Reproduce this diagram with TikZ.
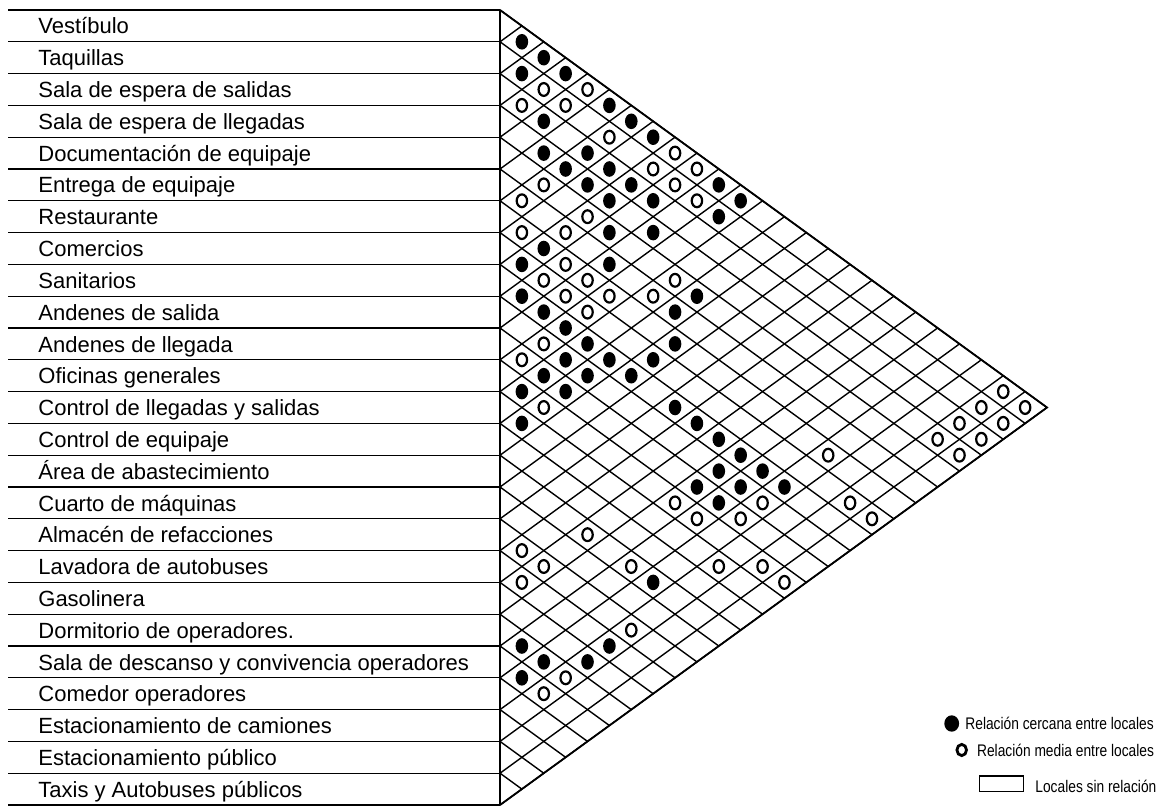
\documentclass[tikz,border=0pt]{standalone}
\usepackage{fontspec}
\setmainfont{Liberation Sans}
\newfontfamily\narrowfont[FakeStretch=0.82]{Liberation Sans}
\begin{document}
\begin{tikzpicture}[x=0.5pt,y=-0.5pt,
  gridline/.style={line width=0.7pt},
  frameline/.style={line width=0.9pt},
  rowline/.style={line width=0.6pt},
  lbl/.style={anchor=base west, inner sep=0pt, font=\fontsize{11}{13}\selectfont},
  legtext/.style={anchor=west, inner sep=0pt, font=\narrowfont\fontsize{8.4}{10}\selectfont},
  neardot/.style={fill=black},
  middot/.style={draw=black, line width=1.1pt}]
\useasboundingbox (0,0) rectangle (1160,807);
\def\A{21.88}
\def\H{31.8}
% row lines of the list
\foreach \k in {0,...,25} {
  \coordinate (L\k) at (8,{10+\k*\H});
  \coordinate (b\k) at (500,{10+\k*\H});
  \draw[rowline] (L\k) -- (b\k);
}
% triangle grid
\foreach \k in {0,...,25} {
  \coordinate (dn\k) at ({500+(25-\k)*\A},{10+(\k+25)/2*\H});
  \coordinate (up\k) at ({500+\k*\A},{10+\k/2*\H});
  \draw[gridline] (b\k) -- (dn\k);
  \draw[gridline] (b\k) -- (up\k);
}
\draw[frameline] (b0) -- (b25);
\draw[frameline] (b0) -- (dn0) -- (b25);
% labels
\foreach \t [count=\n from 0] in {Vestíbulo,Taquillas,Sala de espera de salidas,Sala de espera de llegadas,Documentación de equipaje,Entrega de equipaje,Restaurante,Comercios,Sanitarios,Andenes de salida,Andenes de llegada,Oficinas generales,Control de llegadas y salidas,Control de equipaje,Área de abastecimiento,Cuarto de máquinas,Almacén de refacciones,Lavadora de autobuses,Gasolinera,Dormitorio de operadores.,Sala de descanso y convivencia operadores,Comedor operadores,Estacionamiento de camiones,Estacionamiento público,Taxis y Autobuses públicos}
  \node[lbl] (r\n) at (38,{10+\n*\H+24}) {\t};
% close relations
\foreach \i/\j in {0/1,0/2,1/2,0/3,0/5,0/6,2/4,0/7,3/5,2/6,3/6,2/7,3/7,2/8,0/10,3/8,2/9,0/11,1/11,4/9,3/10,6/8,7/8,5/10,8/9,4/13,8/10,5/13,8/11,8/12,6/14,9/12,8/13,7/14,10/12,9/13,8/14,11/12,10/13,8/16,12/13,8/17,8/18,8/19,9/19,8/20,10/19,9/20,10/20,14/21,19/20,17/22,19/21,18/22,20/21,8/21}
  \fill[neardot] ({500+(\j-\i)*\A},{10+(\i+\j+1)/2*\H}) ellipse [x radius=3.15pt, y radius=3.9pt];
% medium relations
\foreach \i/\j in {1/3,0/4,2/3,1/4,1/6,0/8,1/8,0/9,4/6,1/9,5/6,1/10,4/8,6/7,5/8,6/9,7/9,6/10,4/12,7/10,6/11,5/12,7/11,9/11,10/11,11/13,11/19,9/21,11/20,10/21,14/18,16/17,16/18,14/20,12/22,11/23,17/18,16/22,19/22,20/22,0/23,1/23,0/24,2/23,1/24,3/23,2/24,3/24,6/21,7/23,7/24,11/24}
  \draw[middot] ({500+(\j-\i)*\A},{10+(\i+\j+1)/2*\H}) ellipse [x radius=2.6pt, y radius=3.2pt];
% legend
\fill[neardot] (951.7,723.5) ellipse [x radius=3.7pt, y radius=4.1pt];
\node[legtext] (lg1) at (965,723.5) {Relación cercana entre locales};
\draw[middot, line width=1.4pt] (961.7,750) ellipse [x radius=2.4pt, y radius=2.8pt];
\node[legtext] (lg2) at (976.7,750) {Relación media entre locales};
\draw[line width=0.6pt] (979.3,776) rectangle (1023.3,791.5);
\node[legtext] (lg3) at (1035,786) {Locales sin relación};
\end{tikzpicture}
\end{document}
